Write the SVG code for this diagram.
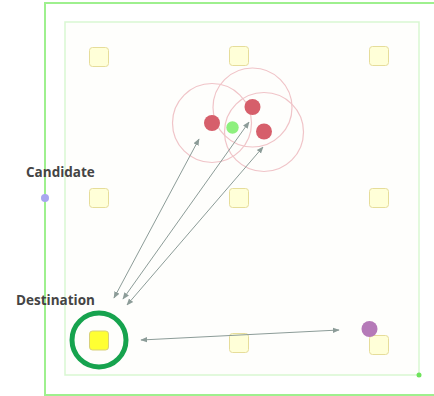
<svg xmlns="http://www.w3.org/2000/svg" width="434" height="396" viewBox="0 0 434 396">
<defs>
<style>
.sq{fill:#ffffd8;stroke:#e6dd9a;stroke-width:1}
.rng{fill:none;stroke:#f0c4c8;stroke-width:1.2}
.red{fill:#d65f6b}
.ln{stroke:#8c9c98;stroke-width:1;fill:none;marker-start:url(#ah);marker-end:url(#ah)}
.lbl{font-family:"Open Sans","Liberation Sans",sans-serif;font-weight:bold;font-size:13.5px;fill:#444}
</style>
<marker id="ah" viewBox="0 0 10 10" refX="9" refY="5" markerWidth="7" markerHeight="7" orient="auto-start-reverse" markerUnits="userSpaceOnUse">
<path d="M0,1 L10,5 L0,9 z" fill="#8c9c98"/>
</marker>
</defs>
<rect width="434" height="396" fill="#ffffff"/>
<g id="outer-frame"><polyline points="434,3 45,3 45,395 434,395" fill="none" stroke="#9ef08e" stroke-width="2"/></g>
<g id="inner-frame"><rect x="65" y="22" width="354" height="353" fill="#fefefc" stroke="#d9f7d2" stroke-width="1.5"/>
<circle cx="419" cy="375" r="2.5" fill="#6ee35c"/></g>
<g id="squares">
<rect class="sq" x="89.5" y="47.5" width="19" height="19" rx="3"/>
<rect class="sq" x="229.5" y="46.5" width="19" height="19" rx="3"/>
<rect class="sq" x="369.5" y="46.5" width="19" height="19" rx="3"/>
<rect class="sq" x="89.5" y="188.5" width="19" height="19" rx="3"/>
<rect class="sq" x="229.5" y="188.5" width="19" height="19" rx="3"/>
<rect class="sq" x="369.5" y="188.5" width="19" height="19" rx="3"/>
<rect class="sq" x="229.5" y="333.5" width="19" height="19" rx="3"/>
<rect class="sq" x="369.5" y="335.5" width="19" height="19" rx="3"/>
</g>
<g id="ranges">
<circle class="rng" cx="212" cy="123" r="39.5"/>
<circle class="rng" cx="252.5" cy="107.5" r="39.5"/>
<circle class="rng" cx="264" cy="132" r="39.5"/>
</g>
<g id="red-nodes">
<circle class="red" cx="212" cy="123" r="8"/>
<circle class="red" cx="252.5" cy="107" r="8"/>
<circle class="red" cx="264" cy="131.5" r="8"/>
</g>
<g id="green-node"><circle cx="232.5" cy="127.5" r="6.2" fill="#8ef07e"/></g>
<g id="candidate"><circle cx="45" cy="198" r="4" fill="#a8a6f0"/>
<text class="lbl" x="26" y="176.5">Candidate</text></g>
<g id="destination">
<text class="lbl" x="16" y="305">Destination</text>
<circle cx="99" cy="340" r="27" fill="none" stroke="#16a34e" stroke-width="5"/>
<rect x="89.5" y="331" width="19" height="19" rx="3" fill="#ffff33" stroke="#d8d07a" stroke-width="1"/>
</g>
<g id="purple-node"><circle cx="369.5" cy="329" r="8" fill="#b57ab8"/></g>
<g id="connectors">
<line class="ln" x1="114" y1="298" x2="199" y2="139"/>
<line class="ln" x1="123" y1="299" x2="249" y2="122"/>
<line class="ln" x1="127" y1="305" x2="263" y2="147"/>
<line class="ln" x1="141" y1="340" x2="339" y2="330"/>
</g>
</svg>
